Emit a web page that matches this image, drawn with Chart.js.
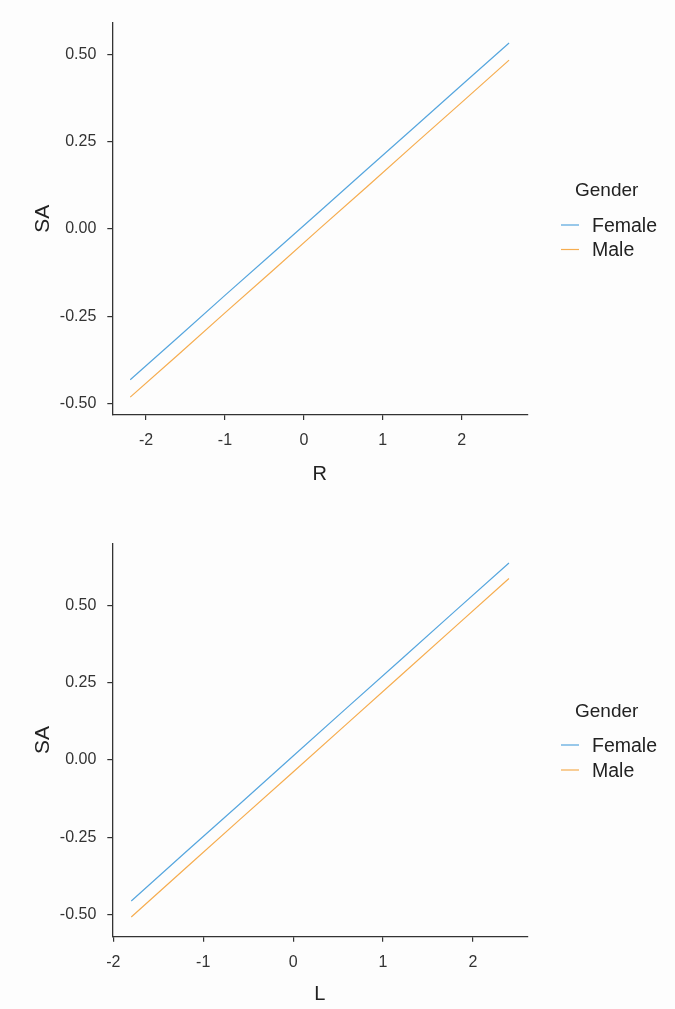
<!DOCTYPE html>
<html>
<head>
<meta charset="utf-8">
<script src="https://cdn.jsdelivr.net/npm/chart.js@4/dist/chart.umd.min.js"></script>
<style>
  html, body { margin: 0; padding: 0; background: #fdfdfd; }
  body { width: 675px; height: 1009px; position: relative; overflow: hidden; }
  .panel { position: absolute; left: 0; }
  canvas { display: block; }
</style>
</head>
<body>
<div class="panel" style="top:0"><canvas id="c1" width="675" height="505"></canvas></div>
<div class="panel" style="top:520px"><canvas id="c2" width="675" height="489"></canvas></div>
<script>
// ---------- data ----------
const seriesNames = ['Female', 'Male'];
const legendTitle = 'Gender';

// Panel 1: SA by R
const rValues = [-2.2, -1.6, -1.0, -0.4, 0.2, 0.8, 1.4, 2.0, 2.6];
const saFemaleR = [-0.431, -0.311, -0.190, -0.070, 0.050, 0.171, 0.291, 0.412, 0.532];
const saMaleR   = [-0.481, -0.361, -0.240, -0.120, 0.001, 0.121, 0.242, 0.362, 0.483];

// Panel 2: SA by L
const lValues = [-1.8, -1.2, -0.6, 0.0, 0.6, 1.2, 1.8, 2.4];
const saFemaleL = [-0.457, -0.300, -0.144, 0.013, 0.170, 0.326, 0.483, 0.639];
const saMaleL   = [-0.509, -0.352, -0.195, -0.039, 0.118, 0.275, 0.432, 0.589];

// tick values and labels
const xTicks = [-2, -1, 0, 1, 2];
const xTickLabels = ['-2', '-1', '0', '1', '2'];
const yTicks = [-0.5, -0.25, 0, 0.25, 0.5];
const yTickLabels = ['-0.50', '-0.25', '0.00', '0.25', '0.50'];

// ---------- styling ----------
const colors = ['#56a6de', '#f6ad50'];
const FONT = '"Liberation Sans", Arial, sans-serif';
const AXIS_COLOR = '#333333';

function toPoints(xs, ys) { return xs.map((x, i) => ({ x: x, y: ys[i] })); }

function legendPlugin(titleY, y1, y2) {
  return {
    id: 'ggLegend',
    afterDraw(chart) {
      const ctx = chart.ctx;
      ctx.save();
      ctx.textBaseline = 'middle';
      ctx.textAlign = 'left';
      ctx.fillStyle = '#222';
      ctx.font = '19px ' + FONT;
      ctx.fillText(legendTitle, 575, titleY);
      const ys = [y1, y2];
      chart.data.datasets.forEach((ds, i) => {
        ctx.strokeStyle = ds.borderColor;
        ctx.lineWidth = 1.2;
        ctx.beginPath();
        ctx.moveTo(561, ys[i]);
        ctx.lineTo(579, ys[i]);
        ctx.stroke();
        ctx.fillStyle = '#222';
        ctx.font = '19.5px ' + FONT;
        ctx.fillText(ds.label, 592, ys[i] + 1.5);
      });
      ctx.restore();
    }
  };
}

function makeChart(id, cfg) {
  const canvas = document.getElementById(id);
  const H = canvas.height;
  return new Chart(canvas, {
    type: 'line',
    data: {
      datasets: [
        { label: seriesNames[0], data: toPoints(cfg.xs, cfg.f), borderColor: colors[0], backgroundColor: colors[0], borderWidth: 1.2, pointRadius: 0, tension: 0, fill: false },
        { label: seriesNames[1], data: toPoints(cfg.xs, cfg.m), borderColor: colors[1], backgroundColor: colors[1], borderWidth: 1.2, pointRadius: 0, tension: 0, fill: false }
      ]
    },
    options: {
      responsive: false,
      animation: false,
      devicePixelRatio: 1,
      layout: { padding: { top: cfg.top, right: 675 - 527.3, left: 0, bottom: 0 } },
      plugins: { legend: { display: false }, tooltip: { enabled: false } },
      scales: {
        x: {
          type: 'linear',
          min: cfg.xmin, max: cfg.xmax,
          afterBuildTicks: s => { s.ticks = xTicks.map(v => ({ value: v })); },
          afterFit: s => { s.height = H - cfg.bottom; },
          ticks: {
            autoSkip: false, maxRotation: 0, padding: 11,
            color: AXIS_COLOR, font: { family: FONT, size: 16 },
            callback: v => xTickLabels[xTicks.indexOf(v)]
          },
          grid: { drawOnChartArea: false, drawTicks: true, tickLength: 5, color: AXIS_COLOR, lineWidth: 1.2 },
          border: { display: true, color: AXIS_COLOR, width: 1.3 },
          title: { display: true, text: cfg.xTitle, color: '#222', font: { family: FONT, size: 20 }, padding: { top: 0, bottom: cfg.xTitlePad } }
        },
        y: {
          type: 'linear',
          min: cfg.ymin, max: cfg.ymax,
          afterBuildTicks: s => { s.ticks = yTicks.map(v => ({ value: v })); },
          afterFit: s => { s.width = 112.3; },
          ticks: {
            autoSkip: false, padding: 11,
            color: AXIS_COLOR, font: { family: FONT, size: 16 },
            callback: v => yTickLabels[yTicks.indexOf(v)]
          },
          grid: { drawOnChartArea: false, drawTicks: true, tickLength: 5, color: AXIS_COLOR, lineWidth: 1.2 },
          border: { display: true, color: AXIS_COLOR, width: 1.3 },
          title: { display: true, text: 'SA', color: '#222', font: { family: FONT, size: 21 }, padding: { top: 31, bottom: 0 } }
        }
      }
    },
    plugins: [legendPlugin(cfg.legY[0], cfg.legY[1], cfg.legY[2])]
  });
}

makeChart('c1', {
  xs: rValues, f: saFemaleR, m: saMaleR,
  xmin: -2.427, xmax: 2.831, ymin: -0.532, ymax: 0.590,
  top: 22.7, bottom: 415, xTitle: 'R', xTitlePad: 19,
  legY: [190.7, 225, 249.5]
});
makeChart('c2', {
  xs: lValues, f: saFemaleL, m: saMaleL,
  xmin: -2.011, xmax: 2.604, ymin: -0.573, ymax: 0.703,
  top: 23.3, bottom: 416.7, xTitle: 'L', xTitlePad: 2.5,
  legY: [191.7, 225, 250]
});
</script>
</body>
</html>
